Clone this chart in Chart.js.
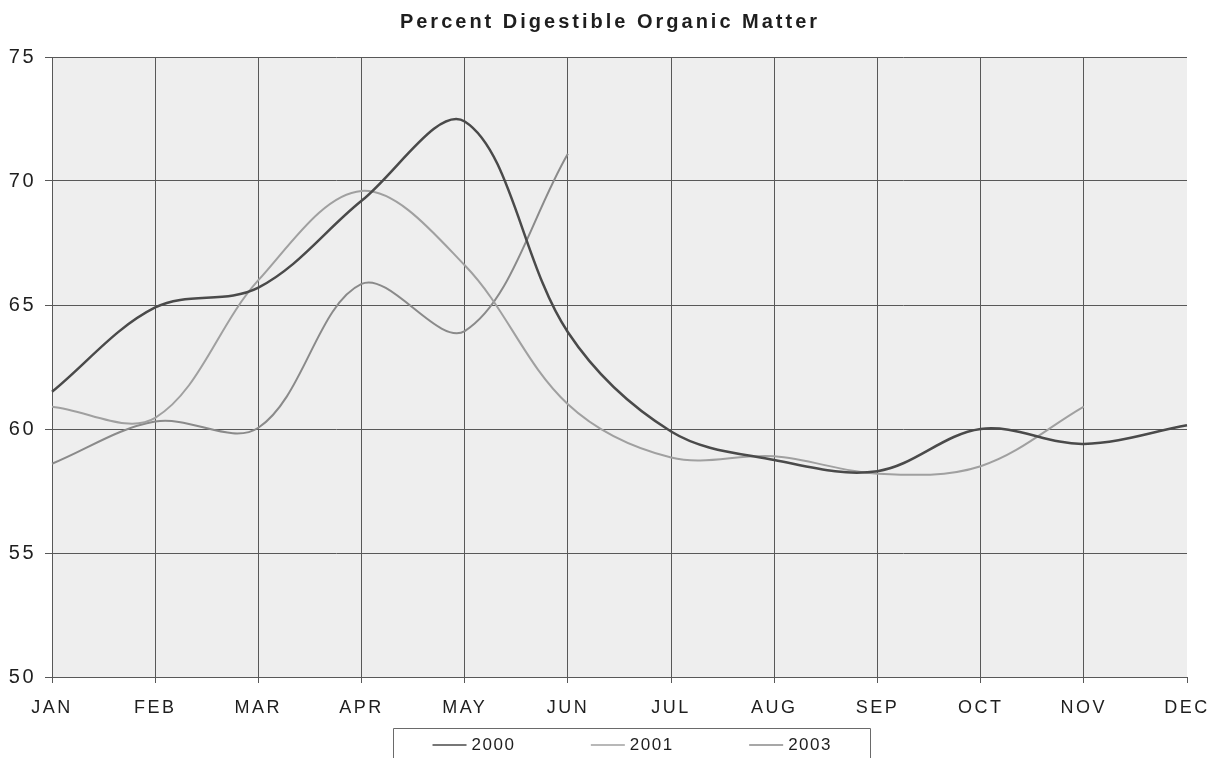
<!DOCTYPE html>
<html>
<head>
<meta charset="utf-8">
<title>Percent Digestible Organic Matter</title>
<script src="https://cdn.jsdelivr.net/npm/chart.js@4.4.1/dist/chart.umd.min.js"></script>
<style>
  html, body { margin: 0; padding: 0; background: #fff; }
  #wrap { width: 1217px; height: 758px; }
</style>
</head>
<body>
<div id="wrap"><canvas id="domChart" width="1217" height="758"></canvas></div>
<script>
// months on the x axis
const months = ["JAN", "FEB", "MAR", "APR", "MAY", "JUN", "JUL", "AUG", "SEP", "OCT", "NOV", "DEC"];

// % digestible organic matter per month, by year
const dom2000 = [61.5, 64.9, 65.7, 69.2, 72.4, 63.9, 59.9, 58.75, 58.3, 60.0, 59.4, 60.15];
const dom2001 = [60.9, 60.45, 66.0, 69.6, 66.6, 61.0, 58.85, 58.9, 58.2, 58.5, 60.9];
const dom2003 = [58.6, 60.3, 60.05, 65.85, 63.95, 71.1];

const seriesNames = ["2000", "2001", "2003"];
const seriesColors = ["#4a4a4a", "#a0a0a0", "#8a8a8a"];

// y axis range
const yMin = 50;
const yMax = 75;
const yStep = 5;

const titleText = "Percent Digestible Organic Matter";
const fontFamily = "'Liberation Sans', Arial, sans-serif";
const gridColor = "#585858";
const textColor = "#1e1e1e";

// grey plot area + wide-spaced axis text
const plotBackground = {
  id: "plotBackground",
  beforeUpdate(chart) {
    chart.ctx.letterSpacing = "2.5px";
  },
  beforeDraw(chart) {
    const { ctx, chartArea } = chart;
    ctx.save();
    ctx.fillStyle = "#eeeeee";
    ctx.fillRect(chartArea.left, chartArea.top, chartArea.right - chartArea.left, chartArea.bottom - chartArea.top);
    ctx.restore();
    ctx.letterSpacing = "2.5px";
  },
};

// title on top and boxed legend below the axis
const titleAndLegend = {
  id: "titleAndLegend",
  afterDraw(chart) {
    const ctx = chart.ctx;
    const cx = chart.width / 2;

    ctx.save();
    ctx.fillStyle = textColor;
    ctx.font = "bold 20px " + fontFamily;
    ctx.letterSpacing = "3px";
    ctx.textBaseline = "middle";
    ctx.textAlign = "left";
    const w = ctx.measureText(titleText).width - 3;
    ctx.fillText(titleText, cx - w / 2, 22);
    ctx.restore();

    // legend box (runs off the bottom edge)
    const boxLeft = 393, boxRight = 870, boxTop = 728;
    ctx.save();
    ctx.strokeStyle = "#6a6a6a";
    ctx.lineWidth = 1;
    ctx.beginPath();
    ctx.moveTo(boxLeft + 0.5, chart.height + 2);
    ctx.lineTo(boxLeft + 0.5, boxTop + 0.5);
    ctx.lineTo(boxRight + 0.5, boxTop + 0.5);
    ctx.lineTo(boxRight + 0.5, chart.height + 2);
    ctx.stroke();

    ctx.font = "17px " + fontFamily;
    ctx.letterSpacing = "1.5px";
    ctx.textBaseline = "middle";
    const sample = 34, gapText = 5, gapItem = 77;
    const items = chart.data.datasets.map(ds => {
      const tw = ctx.measureText(ds.label).width - 1.5;
      return { ds, tw, width: sample + gapText + tw };
    });
    const total = items.reduce((s, it) => s + it.width, 0) + gapItem * (items.length - 1);
    let x = (boxLeft + boxRight) / 2 - total / 2;
    const y = 745;
    items.forEach(it => {
      ctx.strokeStyle = it.ds.borderColor;
      ctx.lineWidth = 1.5;
      ctx.beginPath();
      ctx.moveTo(x, y);
      ctx.lineTo(x + sample, y);
      ctx.stroke();
      ctx.fillStyle = textColor;
      ctx.fillText(it.ds.label, x + sample + gapText, y);
      x += it.width + gapItem;
    });
    ctx.restore();
  },
};

const datasets = [dom2000, dom2001, dom2003].map((values, i) => ({
  label: seriesNames[i],
  data: values,
  borderColor: seriesColors[i],
  borderWidth: i === 0 ? 2.5 : 2,
  pointRadius: 0,
  pointHoverRadius: 0,
  tension: 0.35,
  fill: false,
}));

new Chart(document.getElementById("domChart"), {
  type: "line",
  data: { labels: months, datasets },
  options: {
    responsive: false,
    devicePixelRatio: 1,
    animation: false,
    events: [],
    layout: { padding: { top: 57, left: 0, right: 30, bottom: 45 } },
    plugins: {
      legend: { display: false },
      title: { display: false },
      tooltip: { enabled: false },
    },
    scales: {
      x: {
        type: "category",
        offset: false,
        grid: {
          color: ctx => (ctx.index === months.length - 1 ? "rgba(0,0,0,0)" : gridColor),
          tickColor: gridColor,
          tickLength: 6,
          lineWidth: 1,
        },
        border: { color: gridColor },
        ticks: {
          color: textColor,
          font: { family: fontFamily, size: 18 },
          padding: 14,
          maxRotation: 0,
          autoSkip: false,
        },
        afterFit(scale) {
          scale.height = 36;
          // end labels may hang past the plot; layout padding covers them
          scale.paddingLeft = 0;
          scale.paddingRight = 0;
        },
      },
      y: {
        min: yMin,
        max: yMax,
        grid: { color: gridColor, tickColor: gridColor, tickLength: 7, lineWidth: 1 },
        border: { color: gridColor },
        ticks: {
          stepSize: yStep,
          color: textColor,
          font: { family: fontFamily, size: 20 },
          padding: 9,
        },
        afterFit(scale) { scale.width = 52; },
      },
    },
  },
  plugins: [plotBackground, titleAndLegend],
});
</script>
</body>
</html>
